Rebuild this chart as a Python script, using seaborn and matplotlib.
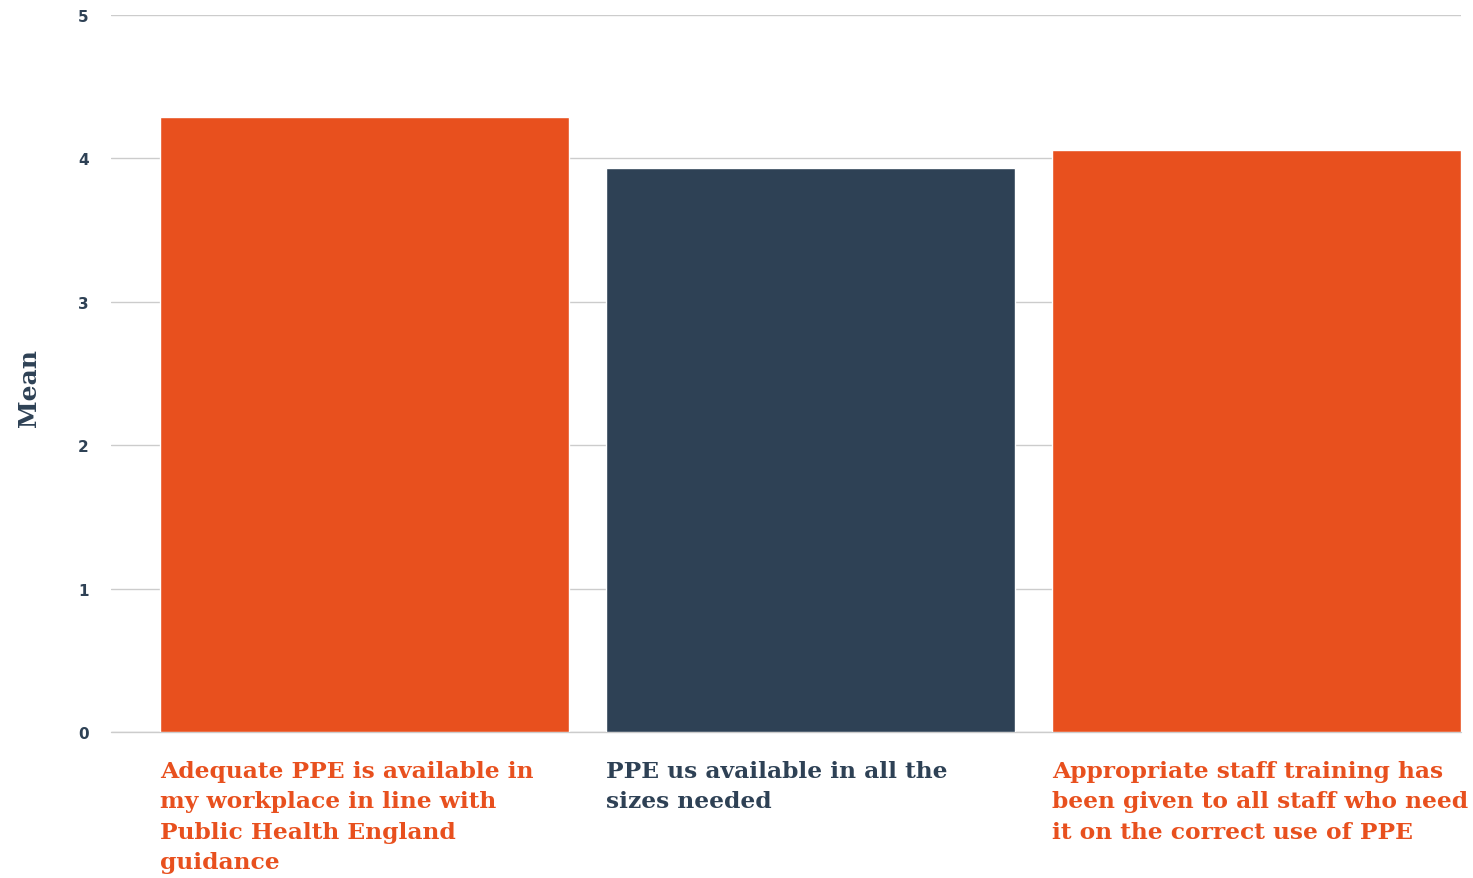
import matplotlib
matplotlib.use("Agg")
import matplotlib.pyplot as plt
import seaborn as sns
import pandas as pd

# Survey statements and their mean agreement scores
statements = [
    "Adequate PPE is available in\nmy workplace in line with\nPublic Health England\nguidance",
    "PPE us available in all the\nsizes needed",
    "Appropriate staff training has\nbeen given to all staff who need\nit on the correct use of PPE",
]
means = [4.29, 3.93, 4.06]
bar_colors = ["#E8501E", "#2E4155", "#E8501E"]
y_ticks = [0, 1, 2, 3, 4, 5]

NAVY = "#2E4155"
GRID = "#cccccc"
SERIF = ["DejaVu Serif"]

sns.set_theme(style="white")
df = pd.DataFrame({"statement": statements, "mean": means})

fig = plt.figure(figsize=(14.73, 8.79), dpi=100)
ax = fig.add_axes([0.0754, 0.1661, 0.9165, 0.8157])

bar_width = 0.916
sns.barplot(data=df, x="statement", y="mean", hue="statement",
            palette=bar_colors, width=bar_width, dodge=False,
            legend=False, ax=ax, saturation=1, zorder=3)

ax.set_ylim(0, 5)
ax.set_xlim(-0.568, 2 + bar_width / 2)
ax.set_yticks(y_ticks)
ax.set_yticklabels([str(t) for t in y_ticks], fontsize=11,
                   fontweight="bold", color=NAVY)
ax.yaxis.grid(True, color=GRID, linewidth=1, zorder=0)
ax.axhline(0, color=GRID, linewidth=1, zorder=2, clip_on=False)
ax.set_axisbelow(True)
ax.tick_params(axis="y", length=0, pad=16)
for s in ax.spines.values():
    s.set_visible(False)

# Category labels left-aligned with the left edge of each bar
ax.set_xticks([i - bar_width / 2 for i in range(len(statements))])
ax.set_xticklabels(statements)
ax.tick_params(axis="x", length=0, pad=20)
for lbl, c in zip(ax.get_xticklabels(), bar_colors):
    lbl.set_horizontalalignment("left")
    lbl.set_verticalalignment("top")
    lbl.set_color(c)
    lbl.set_fontsize(16.8)
    lbl.set_fontweight("bold")
    lbl.set_family(SERIF)
    lbl.set_linespacing(1.5)

ax.set_xlabel("")
ax.set_ylabel("Mean", fontsize=18, fontweight="bold", color=NAVY,
              family=SERIF)
ax.yaxis.set_label_coords(-0.052, 0.481)

fig.savefig("out.png", dpi=100)
